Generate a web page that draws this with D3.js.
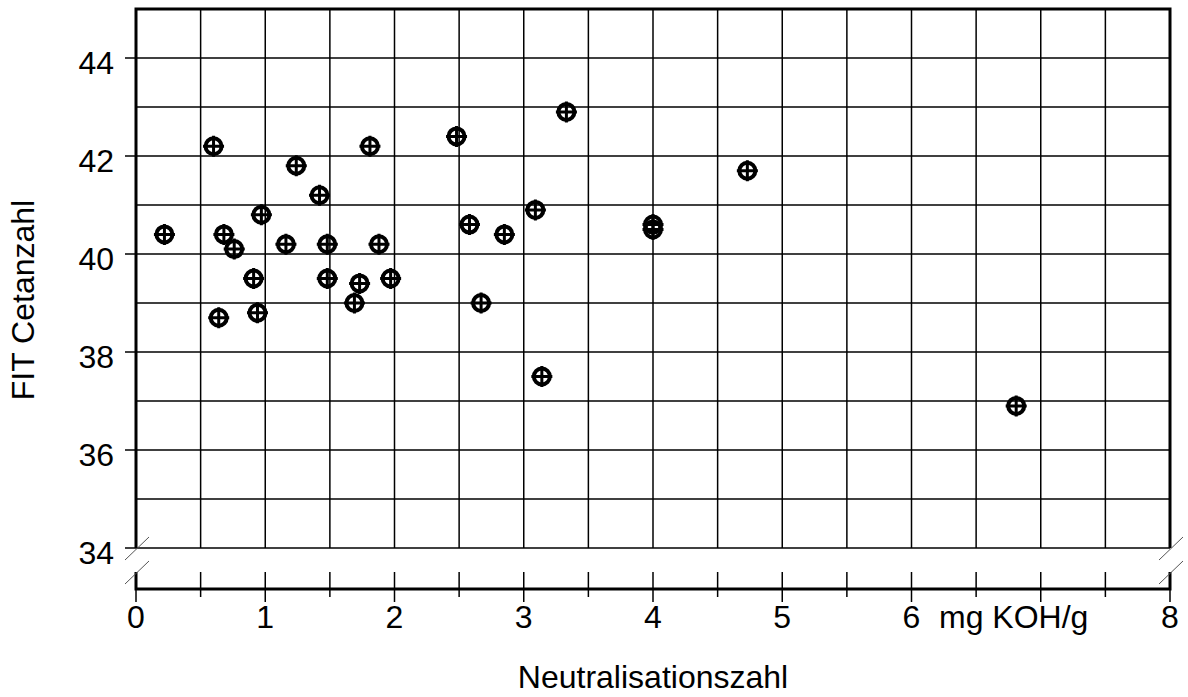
<!DOCTYPE html>
<html>
<head>
<meta charset="utf-8">
<script src="https://cdn.jsdelivr.net/npm/d3@7"></script>
<style>
  body { margin: 0; background: #fff; }
  svg { display: block; font-family: "Liberation Sans", Arial, sans-serif; }
</style>
</head>
<body>
<svg id="chart" width="1188" height="697"></svg>
<script>
// FIT Cetanzahl vs Neutralisationszahl
const width = 1188;
const height = 697;

const neutralisation = [0.22, 0.60, 0.64, 0.68, 0.76, 0.94, 0.97, 0.91, 1.16, 1.24,
    1.42, 1.48, 1.48, 1.69, 1.73, 1.81, 1.88, 1.97, 2.48, 2.58,
    2.67, 2.85, 3.09, 3.14, 3.33, 4.00, 4.00, 4.73, 6.81];
const cetane = [40.4, 42.2, 38.7, 40.4, 40.1, 38.8, 40.8, 39.5, 40.2, 41.8,
    41.2, 40.2, 39.5, 39.0, 39.4, 42.2, 40.2, 39.5, 42.4, 40.6,
    39.0, 40.4, 40.9, 37.5, 42.9, 40.6, 40.5, 41.7, 36.9];
const xTickLabels = [0, 1, 2, 3, 4, 5, 6, 8];
const xGrid = d3.range(0, 8.01, 0.5);
const yTickLabels = [34, 36, 38, 40, 42, 44];
const yGrid = d3.range(34, 45, 1);

const plotL = 136, plotR = 1170, plotT = 9, panelBottom = 548;
const axisY = 589, stubTop = 572;
const fs = 32;

const x = d3.scaleLinear().domain([0, 8]).range([plotL, plotR]);
const y = d3.scaleLinear().domain([34, 45]).range([panelBottom, plotT]);

const svg = d3.select("#chart");

// grid
svg.append("g").selectAll("line").data(yGrid).join("line")
    .attr("x1", plotL).attr("x2", plotR)
    .attr("y1", d => y(d)).attr("y2", d => y(d))
    .attr("stroke", "#000").attr("stroke-width", 1.5);
svg.append("g").selectAll("line").data(xGrid).join("line")
    .attr("x1", d => x(d)).attr("x2", d => x(d))
    .attr("y1", plotT).attr("y2", panelBottom)
    .attr("stroke", "#000").attr("stroke-width", 1.5);

// frame of the upper panel
svg.append("path")
    .attr("d", `M${plotL},${panelBottom}V${plotT}H${plotR}V${panelBottom}`)
    .attr("fill", "none").attr("stroke", "#000").attr("stroke-width", 3);

// y ticks + labels
svg.append("g").selectAll("line").data(yTickLabels).join("line")
    .attr("x1", plotL - 11).attr("x2", plotL)
    .attr("y1", d => y(d)).attr("y2", d => y(d))
    .attr("stroke", "#000").attr("stroke-width", 1.5);
svg.append("g").selectAll("text").data(yTickLabels).join("text")
    .attr("x", plotL - 22).attr("y", d => y(d) + 16)
    .attr("text-anchor", "end")
    .attr("font-size", fs).text(d => d);

// lower axis with stubs
svg.append("path")
    .attr("d", `M${plotL},${stubTop}V${axisY}H${plotR}V${stubTop}`)
    .attr("fill", "none").attr("stroke", "#000").attr("stroke-width", 3);
svg.append("g").selectAll("line").data(xGrid).join("line")
    .attr("x1", d => x(d)).attr("x2", d => x(d))
    .attr("y1", stubTop).attr("y2", d => Number.isInteger(d) ? axisY + 13 : axisY + 8)
    .attr("stroke", "#000").attr("stroke-width", 1.5);
svg.append("g").selectAll("text").data(xTickLabels).join("text")
    .attr("x", d => x(d)).attr("y", 628)
    .attr("text-anchor", "middle")
    .attr("font-size", fs).text(d => d);
svg.append("text").attr("x", 939).attr("y", 628)
    .attr("font-size", fs).text("mg KOH/g");

// break marks
[plotL, plotR].forEach(bx => {
    [[560, 537], [584, 561]].forEach(([y1, y2]) => {
        svg.append("line")
            .attr("x1", bx - 11).attr("y1", y1)
            .attr("x2", bx + 13).attr("y2", y2)
            .attr("stroke", "#555").attr("stroke-width", 1);
    });
});

// axis titles
svg.append("text").attr("x", x(4)).attr("y", 688)
    .attr("text-anchor", "middle").attr("font-size", fs)
    .text("Neutralisationszahl");
svg.append("text")
    .attr("transform", `translate(34,300) rotate(-90)`)
    .attr("text-anchor", "middle").attr("font-size", fs)
    .text("FIT Cetanzahl");

// markers: circle with cross
const pts = neutralisation.map((v, i) => [v, cetane[i]]);
const mk = svg.append("g").selectAll("g").data(pts).join("g")
    .attr("transform", d => `translate(${x(d[0])},${y(d[1])})`);
mk.append("circle").attr("r", 8)
    .attr("fill", "none").attr("stroke", "#000").attr("stroke-width", 4);
mk.append("path").attr("d", "M-10.5,0H10.5M0,-10.5V10.5")
    .attr("stroke", "#000").attr("stroke-width", 3);
</script>
</body>
</html>
